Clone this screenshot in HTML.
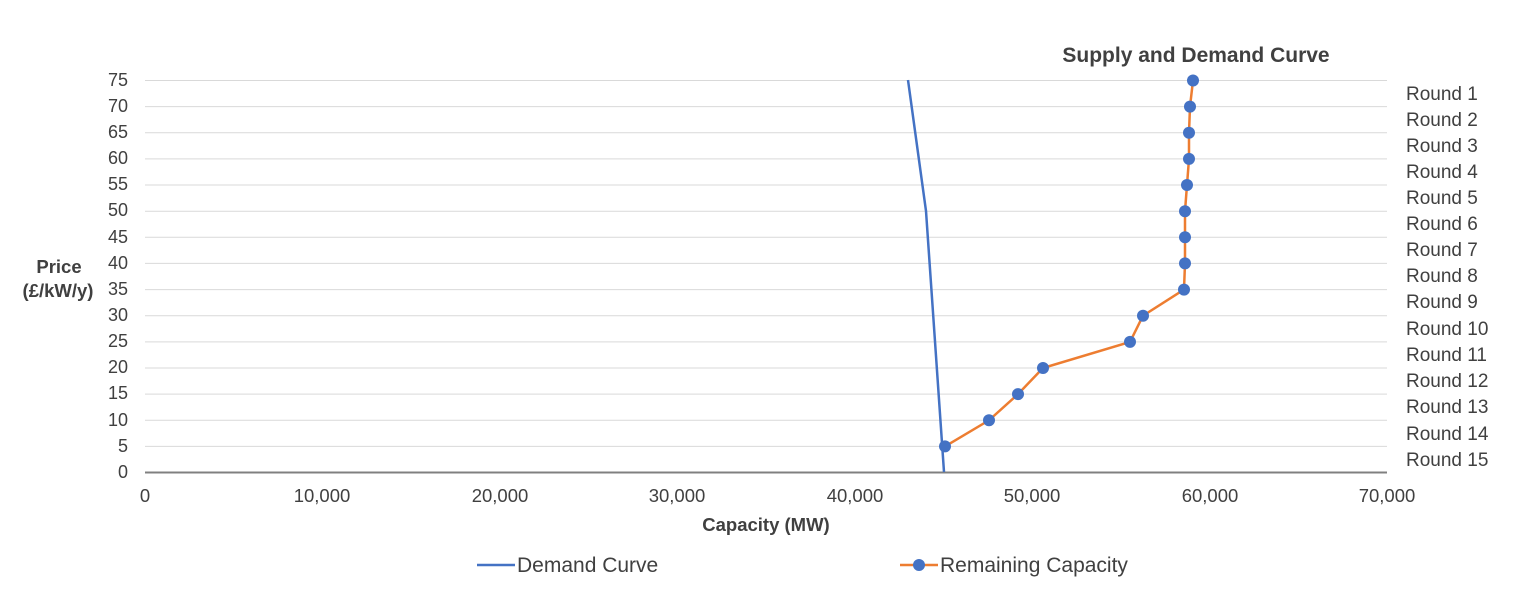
<!DOCTYPE html>
<html><head><style>
html,body{margin:0;padding:0;background:#fff;}
svg{display:block;font-family:"Liberation Sans",Arial,sans-serif;}
</style></head><body>
<svg width="1536" height="597" viewBox="0 0 1536 597" xmlns="http://www.w3.org/2000/svg">
<g stroke="#d9d9d9" stroke-width="1">
<line x1="145" x2="1387" y1="80.5" y2="80.5"/>
<line x1="145" x2="1387" y1="106.6" y2="106.6"/>
<line x1="145" x2="1387" y1="132.7" y2="132.7"/>
<line x1="145" x2="1387" y1="158.9" y2="158.9"/>
<line x1="145" x2="1387" y1="185" y2="185"/>
<line x1="145" x2="1387" y1="211.2" y2="211.2"/>
<line x1="145" x2="1387" y1="237.3" y2="237.3"/>
<line x1="145" x2="1387" y1="263.4" y2="263.4"/>
<line x1="145" x2="1387" y1="289.6" y2="289.6"/>
<line x1="145" x2="1387" y1="315.7" y2="315.7"/>
<line x1="145" x2="1387" y1="341.9" y2="341.9"/>
<line x1="145" x2="1387" y1="368" y2="368"/>
<line x1="145" x2="1387" y1="394.1" y2="394.1"/>
<line x1="145" x2="1387" y1="420.3" y2="420.3"/>
<line x1="145" x2="1387" y1="446.4" y2="446.4"/>
</g>
<line x1="145" x2="1387" y1="472.5" y2="472.5" stroke="#808080" stroke-width="2"/>
<g font-size="18" fill="#404040" text-anchor="end">
<text x="128" y="86">75</text><text x="128" y="112">70</text><text x="128" y="138">65</text>
<text x="128" y="164">60</text><text x="128" y="190">55</text><text x="128" y="216">50</text>
<text x="128" y="243">45</text><text x="128" y="269">40</text><text x="128" y="295">35</text>
<text x="128" y="321">30</text><text x="128" y="347">25</text><text x="128" y="373">20</text>
<text x="128" y="399">15</text><text x="128" y="426">10</text><text x="128" y="452">5</text>
<text x="128" y="478">0</text>
</g>
<g font-size="18.5" fill="#404040" text-anchor="middle">
<text x="145" y="502">0</text><text x="322" y="502">10,000</text><text x="500" y="502">20,000</text>
<text x="677" y="502">30,000</text><text x="855" y="502">40,000</text><text x="1032" y="502">50,000</text>
<text x="1210" y="502">60,000</text><text x="1387" y="502">70,000</text>
</g>
<g font-size="18.5" font-weight="bold" fill="#404040" text-anchor="middle">
<text x="59" y="273">Price</text><text x="58" y="297">(£/kW/y)</text>
<text x="766" y="531">Capacity (MW)</text>
</g>
<text x="1196" y="62" font-size="21" font-weight="bold" fill="#404040" text-anchor="middle">Supply and Demand Curve</text>
<g font-size="19" fill="#404040">
<text x="1406" y="100">Round 1</text><text x="1406" y="126">Round 2</text><text x="1406" y="152">Round 3</text>
<text x="1406" y="178">Round 4</text><text x="1406" y="204">Round 5</text><text x="1406" y="230">Round 6</text>
<text x="1406" y="256">Round 7</text><text x="1406" y="282">Round 8</text><text x="1406" y="308">Round 9</text>
<text x="1406" y="335">Round 10</text><text x="1406" y="361">Round 11</text><text x="1406" y="387">Round 12</text>
<text x="1406" y="413">Round 13</text><text x="1406" y="440">Round 14</text><text x="1406" y="466">Round 15</text>
</g>
<polyline points="908,80 926,211 944,472" fill="none" stroke="#4472c4" stroke-width="2.5"/>
<polyline points="1193,80.5 1190,106.6 1189,132.7 1189,158.9 1187,185 1185,211.2 1185,237.3 1185,263.4 1184,289.6 1143,315.7 1130,341.9 1043,368 1018,394.1 989,420.3 945,446.4" fill="none" stroke="#ed7d31" stroke-width="2.5"/>
<g fill="#4472c4">
<circle cx="1193" cy="80.5" r="6"/><circle cx="1190" cy="106.6" r="6"/><circle cx="1189" cy="132.7" r="6"/>
<circle cx="1189" cy="158.9" r="6"/><circle cx="1187" cy="185" r="6"/><circle cx="1185" cy="211.2" r="6"/>
<circle cx="1185" cy="237.3" r="6"/><circle cx="1185" cy="263.4" r="6"/><circle cx="1184" cy="289.6" r="6"/>
<circle cx="1143" cy="315.7" r="6"/><circle cx="1130" cy="341.9" r="6"/><circle cx="1043" cy="368" r="6"/>
<circle cx="1018" cy="394.1" r="6"/><circle cx="989" cy="420.3" r="6"/><circle cx="945" cy="446.4" r="6"/>
</g>
<line x1="477" x2="515" y1="565" y2="565" stroke="#4472c4" stroke-width="2.5"/>
<text x="517" y="572" font-size="21" fill="#404040">Demand Curve</text>
<line x1="900" x2="938" y1="565" y2="565" stroke="#ed7d31" stroke-width="2.5"/>
<circle cx="919" cy="565" r="6" fill="#4472c4"/>
<text x="940" y="572" font-size="21" fill="#404040">Remaining Capacity</text>
</svg>
</body></html>
